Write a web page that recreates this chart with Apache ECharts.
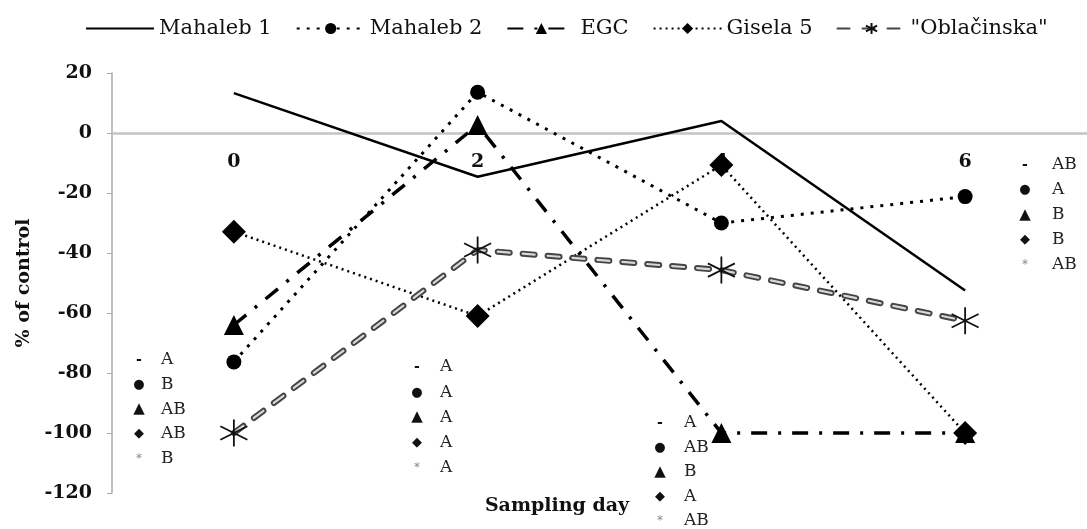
<!DOCTYPE html>
<html>
<head>
<meta charset="utf-8">
<script src="https://cdn.jsdelivr.net/npm/echarts@6/dist/echarts.min.js"></script>
<style>
  html, body { margin: 0; padding: 0; background: #fff; }
  #main { width: 1087px; height: 529px; }
</style>
</head>
<body>
<div id="main"></div>
<script>
// data
var days = ['0', '2', '4', '6'];
var mahaleb1 = [13.3, -14.6, 4, -52.5];
var mahaleb2 = [-76.3, 13.6, -30, -21.2];
var egc = [-64, 2.7, -100, -100];
var gisela5 = [-32.9, -61, -10.7, -100];
var oblacinska = [-100, -39, -45.7, -62.6];

// significance letters per sampling day (rows: Mahaleb 1, Mahaleb 2, EGC, Gisela 5, Oblačinska)
var rowMarks = ['-', '●', '▲', '◆', '*'];
var letters0 = ['A', 'B', 'AB', 'AB', 'B'];
var letters2 = ['A', 'A', 'A', 'A', 'A'];
var letters4 = ['A', 'AB', 'B', 'A', 'AB'];
var letters6 = ['AB', 'A', 'B', 'B', 'AB'];

var serif = '"DejaVu Serif", "Liberation Serif", serif';
var starPath = 'path://M0,-10L0,10M-8.66,-5L8.66,5M-8.66,5L8.66,-5';

var myChart = echarts.init(document.getElementById('main'));

// letter blocks beside each day
var markFonts = ['bold 14px', '13px', '15px', '13px', '12px'];
function letterBlock(list, symX, txtX, y0, step) {
    var out = [];
    for (var i = 0; i < list.length; i++) {
        out.push({
            type: 'text', x: symX, y: y0 + i * step,
            style: { text: rowMarks[i], font: markFonts[i] + ' "DejaVu Sans"', fill: i === 4 ? '#888' : '#111', align: 'center', verticalAlign: 'middle' }
        });
        out.push({
            type: 'text', x: txtX, y: y0 + i * step,
            style: { text: list[i], font: '17px ' + serif, fill: '#222', align: 'left', verticalAlign: 'middle' }
        });
    }
    return out;
}

var graphics = []
    .concat(letterBlock(letters0, 139, 161, 360, 24.6))
    .concat(letterBlock(letters2, 417, 440, 367, 25.2))
    .concat(letterBlock(letters4, 660, 684, 423, 24.4))
    .concat(letterBlock(letters6, 1025, 1052, 165, 25));
graphics.push({
    type: 'text', x: 557, y: 506,
    style: { text: 'Sampling day', font: 'bold 19px ' + serif, fill: '#111', align: 'center', verticalAlign: 'middle' }
});

var option = {
    animation: false,
    backgroundColor: '#fff',
    legend: {
        top: 13,
        left: 80,
        itemWidth: 68,
        itemHeight: 14,
        itemGap: 24,
        textStyle: { fontFamily: serif, fontSize: 21, color: '#111' },
        data: ['Mahaleb 1', 'Mahaleb 2', 'EGC', 'Gisela 5', '"Oblačinska"']
    },
    grid: { left: 112, top: 73, width: 1000, height: 420 },
    xAxis: {
        type: 'category',
        data: days,
        axisLine: { onZero: true, lineStyle: { color: '#c4c4c4', width: 2.5 } },
        axisTick: { length: 4, lineStyle: { color: '#bbb' } },
        axisLabel: {
            // labels sit just under the zero line
            margin: -340,
            fontFamily: serif, fontSize: 19, fontWeight: 'bold', color: '#111'
        }
    },
    yAxis: {
        type: 'value',
        min: -120, max: 20, interval: 20,
        name: '% of control',
        nameLocation: 'middle',
        nameGap: 78,
        nameTextStyle: { fontFamily: serif, fontSize: 19, fontWeight: 'bold', color: '#111' },
        axisLine: { show: true, lineStyle: { color: '#aaa', width: 1.5 } },
        axisTick: { show: true, length: 5, lineStyle: { color: '#aaa' } },
        splitLine: { show: false },
        axisLabel: {
            margin: 20,
            fontFamily: serif, fontSize: 19, fontWeight: 'bold', color: '#111'
        }
    },
    graphic: graphics,
    series: [
        {
            name: 'Mahaleb 1', type: 'line', data: mahaleb1,
            symbol: 'none',
            lineStyle: { color: '#000', width: 2.5 },
            itemStyle: { color: 'rgba(0,0,0,0)' }
        },
        {
            name: 'Mahaleb 2', type: 'line', data: mahaleb2,
            symbol: 'circle', symbolSize: 15,
            lineStyle: { color: '#000', width: 3, type: [3, 7] },
            itemStyle: { color: '#000' }
        },
        {
            name: 'EGC', type: 'line', data: egc,
            symbol: 'triangle', symbolSize: 20,
            lineStyle: { color: '#000', width: 3.5, type: [16, 11, 3, 11] },
            itemStyle: { color: '#000' }
        },
        {
            name: 'Gisela 5', type: 'line', data: gisela5,
            symbol: 'diamond', symbolSize: 24,
            lineStyle: { color: '#000', width: 2.5, type: [2, 4] },
            itemStyle: { color: '#000' }
        },
        {
            name: '"Oblačinska"', type: 'line', data: oblacinska,
            symbol: starPath, symbolSize: 27,
            lineStyle: { color: '#444', width: 6, type: [12, 13], cap: 'round' },
            itemStyle: { color: 'none', borderColor: '#111', borderWidth: 1.8 }
        },
        {
            // light core of the double-line dashes
            type: 'line', data: oblacinska,
            symbol: 'none', silent: true,
            lineStyle: { color: '#d8d8d8', width: 2.2, type: [12, 13], cap: 'round' }
        }
    ]
};

myChart.setOption(option);
</script>
</body>
</html>
